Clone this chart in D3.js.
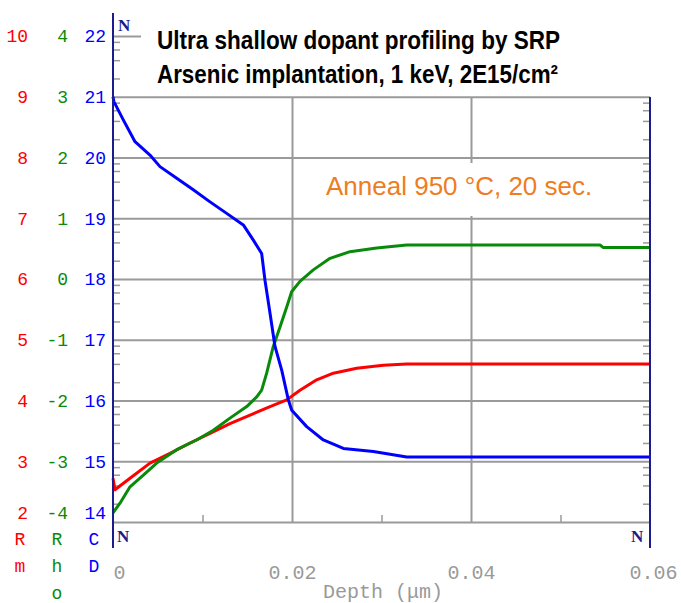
<!DOCTYPE html>
<html>
<head>
<meta charset="utf-8">
<script src="https://cdn.jsdelivr.net/npm/d3@7"></script>
<style>
  body { margin: 0; background: #fff; }
</style>
</head>
<body>
<svg id="chart" width="681" height="603"></svg>
<script>
// carrier density CD, log10 (cm-3) vs depth (um)
var cdDepth = [0, 0.0001, 0.00115, 0.00246, 0.00413, 0.00525, 0.00712, 0.00897, 0.01084, 0.0127, 0.01456, 0.01568, 0.01661, 0.01698, 0.01754, 0.0181, 0.01885, 0.01959, 0.01997, 0.02164, 0.0235, 0.02574, 0.02909, 0.03282, 0.06];
var cdLog   = [21.0, 20.92, 20.62, 20.26, 20.04, 19.85, 19.66, 19.47, 19.27, 19.08, 18.89, 18.64, 18.42, 17.98, 17.44, 16.89, 16.50, 16.01, 15.84, 15.57, 15.35, 15.21, 15.16, 15.07, 15.07];

// resistivity Rho, log10 (ohm cm)
var rhoDepth = [0, 0.00078, 0.0019, 0.00339, 0.00488, 0.00712, 0.00935, 0.01121, 0.01307, 0.01494, 0.01606, 0.01661, 0.01717, 0.01791, 0.01866, 0.01941, 0.01996, 0.02089, 0.02238, 0.02425, 0.02648, 0.02946, 0.03282, 0.05441, 0.05475, 0.06];
var rhoLog   = [-3.85, -3.69, -3.42, -3.23, -3.03, -2.81, -2.65, -2.49, -2.29, -2.10, -1.94, -1.83, -1.55, -1.11, -0.79, -0.46, -0.21, -0.04, 0.15, 0.34, 0.45, 0.51, 0.56, 0.56, 0.52, 0.52];

// Rm, linear
var rmDepth = [0, 0.00022, 0.0019, 0.00413, 0.00637, 0.0086, 0.01084, 0.01307, 0.01531, 0.01754, 0.01941, 0.02089, 0.02276, 0.02462, 0.02723, 0.0302, 0.03282, 0.06];
var rmVal   = [2.72, 2.53, 2.72, 2.97, 3.13, 3.30, 3.46, 3.62, 3.76, 3.90, 4.01, 4.17, 4.34, 4.45, 4.53, 4.58, 4.60, 4.60];

var depthTicks = [0, 0.02, 0.04, 0.06];
var depthMinor = [0.01, 0.03, 0.05];
var cdTicks  = [14, 15, 16, 17, 18, 19, 20, 21, 22];
var rhoTicks = [-4, -3, -2, -1, 0, 1, 2, 3, 4];
var rmTicks  = [2, 3, 4, 5, 6, 7, 8, 9, 10];

var svg = d3.select('#chart');
var plotLeft = 113, plotRight = 650, plotTop = 97, plotBottom = 522;

var x = d3.scaleLinear().domain([0, 0.06]).range([plotLeft, plotRight]);
var yCD  = d3.scaleLinear().domain([14, 22]).range([plotBottom, 36]);
var yRho = d3.scaleLinear().domain([-4, 4]).range([plotBottom, 36]);
var yRm  = d3.scaleLinear().domain([2, 10]).range([plotBottom, 36]);

var gridColor = '#9a9a9a', axisColor = '#1c1c8c';

function noDomain(g) { g.select('.domain').remove(); }

// horizontal grid (decades inside the box)
svg.append('g')
  .attr('transform', 'translate(' + plotLeft + ',0)')
  .call(d3.axisLeft(yCD).tickValues(cdTicks.filter(function(d) { return d > 14 && d < 22; }))
    .tickSize(-(plotRight - plotLeft)).tickFormat(''))
  .call(noDomain)
  .selectAll('line').attr('stroke', gridColor).attr('stroke-width', 2);

// short line at level 22
svg.append('g')
  .attr('transform', 'translate(' + plotLeft + ',0)')
  .call(d3.axisLeft(yCD).tickValues([22]).tickSize(-28).tickFormat(''))
  .call(noDomain)
  .selectAll('line').attr('stroke', gridColor).attr('stroke-width', 2);

// minor log ticks (2,4,6,8) on left and right
var minor = [];
cdTicks.slice(0, -1).forEach(function(e) { [2, 4, 6, 8].forEach(function(k) { minor.push(e + Math.log10(k)); }); });
svg.append('g')
  .attr('transform', 'translate(' + plotLeft + ',0)')
  .call(d3.axisLeft(yCD).tickValues(minor).tickSize(-7).tickFormat(''))
  .call(noDomain)
  .selectAll('line').attr('stroke', gridColor).attr('stroke-width', 1.5);
svg.append('g')
  .attr('transform', 'translate(' + plotRight + ',0)')
  .call(d3.axisRight(yCD).tickValues(minor.filter(function(d) { return d < 21; })).tickSize(-7).tickFormat(''))
  .call(noDomain)
  .selectAll('line').attr('stroke', gridColor).attr('stroke-width', 1.5);

// vertical grid
svg.append('g')
  .attr('transform', 'translate(0,' + plotBottom + ')')
  .call(d3.axisBottom(x).tickValues([0.02, 0.04]).tickSize(-(plotBottom - plotTop)).tickFormat(''))
  .call(noDomain)
  .selectAll('line').attr('stroke', gridColor).attr('stroke-width', 2);

// bottom axis line + minor ticks
var xb = svg.append('g')
  .attr('transform', 'translate(0,' + plotBottom + ')')
  .call(d3.axisBottom(x).tickValues(depthMinor).tickSize(-7).tickSizeOuter(0).tickFormat(''));
xb.select('.domain').attr('stroke', gridColor).attr('stroke-width', 2);
xb.selectAll('line').attr('stroke', gridColor).attr('stroke-width', 1.5);

// annotation (white box interrupts grid)
svg.append('rect').attr('x', 318).attr('y', 163).attr('width', 292).attr('height', 53).attr('fill', '#fff');
svg.append('text')
  .attr('x', 326).attr('y', 195)
  .attr('font-family', 'Liberation Sans, Arial, sans-serif')
  .attr('font-size', 26)
  .attr('fill', '#ee7d22')
  .text('Anneal 950 \u00B0C, 20 sec.');

// curves
function drawLine(xs, ys, yScale, color) {
  var pts = xs.map(function(d, i) { return [d, ys[i]]; });
  svg.append('path')
    .datum(pts)
    .attr('fill', 'none')
    .attr('stroke', color)
    .attr('stroke-width', 3)
    .attr('stroke-linejoin', 'round')
    .attr('d', d3.line().x(function(d) { return x(d[0]); }).y(function(d) { return yScale(d[1]); }));
}
drawLine(rmDepth, rmVal, yRm, '#ff0000');
drawLine(rhoDepth, rhoLog, yRho, '#0a8a0a');
drawLine(cdDepth, cdLog, yCD, '#0000ff');

// axis lines
svg.append('line').attr('x1', plotLeft).attr('x2', plotLeft).attr('y1', 13).attr('y2', 548)
  .attr('stroke', axisColor).attr('stroke-width', 2);
svg.append('line').attr('x1', plotRight).attr('x2', plotRight).attr('y1', plotTop).attr('y2', 548)
  .attr('stroke', axisColor).attr('stroke-width', 2);

// N markers
[[118, 31], [117, 542], [631, 542]].forEach(function(p) {
  svg.append('text').attr('x', p[0]).attr('y', p[1])
    .attr('font-family', 'Liberation Serif, serif').attr('font-weight', 'bold')
    .attr('font-size', 17).attr('fill', axisColor).text('N');
});

// left tick labels
var monoFont = 'Liberation Mono, DejaVu Sans Mono, monospace';
function leftLabels(scale, ticks, xpos, color) {
  var g = svg.append('g')
    .attr('transform', 'translate(' + xpos + ',0)')
    .call(d3.axisLeft(scale).tickValues(ticks).tickSize(0).tickPadding(0)
      .tickFormat(function(d) { return String(d); }));
  g.select('.domain').remove();
  g.selectAll('text').attr('font-family', monoFont).attr('font-size', 18).attr('fill', color);
  g.selectAll('.tick').filter(function(d) { return d === ticks[0]; })
    .select('text').attr('y', -9);
}
leftLabels(yRm, rmTicks, 28, '#ff0000');
leftLabels(yRho, rhoTicks, 68, '#0a8a0a');
leftLabels(yCD, cdTicks, 106, '#0000ff');

// series names below
var names = [
  { t: ['R', 'm'], x: 20, c: '#ff0000' },
  { t: ['R', 'h', 'o'], x: 57, c: '#0a8a0a' },
  { t: ['C', 'D'], x: 94, c: '#0000ff' }
];
names.forEach(function(n) {
  n.t.forEach(function(ch, i) {
    svg.append('text').attr('x', n.x).attr('y', 545 + i * 27)
      .attr('text-anchor', 'middle')
      .attr('font-family', monoFont).attr('font-size', 18).attr('fill', n.c).text(ch);
  });
});

// x tick labels
var xl = svg.append('g')
  .attr('transform', 'translate(0,' + plotBottom + ')')
  .call(d3.axisBottom(x).tickValues(depthTicks).tickSize(0)
    .tickFormat(function(d) { return d === 0 ? '0' : d3.format('.2f')(d); }));
xl.select('.domain').remove();
xl.selectAll('text').attr('y', 57).attr('dy', 0)
  .attr('font-family', monoFont).attr('font-size', 20).attr('fill', '#999');
xl.selectAll('.tick').filter(function(d) { return d === 0; }).select('text').attr('x', 6);
xl.selectAll('.tick').filter(function(d) { return d === 0.06; }).select('text').attr('x', 3);

svg.append('text').attr('x', 383).attr('y', 598).attr('text-anchor', 'middle')
  .attr('font-family', monoFont).attr('font-size', 20).attr('fill', '#999')
  .text('Depth (\u03BCm)');

// title
var titleFont = 'Liberation Sans Narrow, Arial Narrow, Liberation Sans, sans-serif';
svg.append('text').attr('x', 157).attr('y', 49)
  .attr('font-family', titleFont).attr('font-weight', 'bold').attr('font-size', 25)
  .attr('textLength', 403).attr('lengthAdjust', 'spacingAndGlyphs')
  .attr('fill', '#000').text('Ultra shallow dopant profiling by SRP');
svg.append('text').attr('x', 157).attr('y', 83)
  .attr('font-family', titleFont).attr('font-weight', 'bold').attr('font-size', 25)
  .attr('textLength', 401).attr('lengthAdjust', 'spacingAndGlyphs')
  .attr('fill', '#000').text('Arsenic implantation, 1 keV, 2E15/cm\u00B2');
</script>
</body>
</html>
